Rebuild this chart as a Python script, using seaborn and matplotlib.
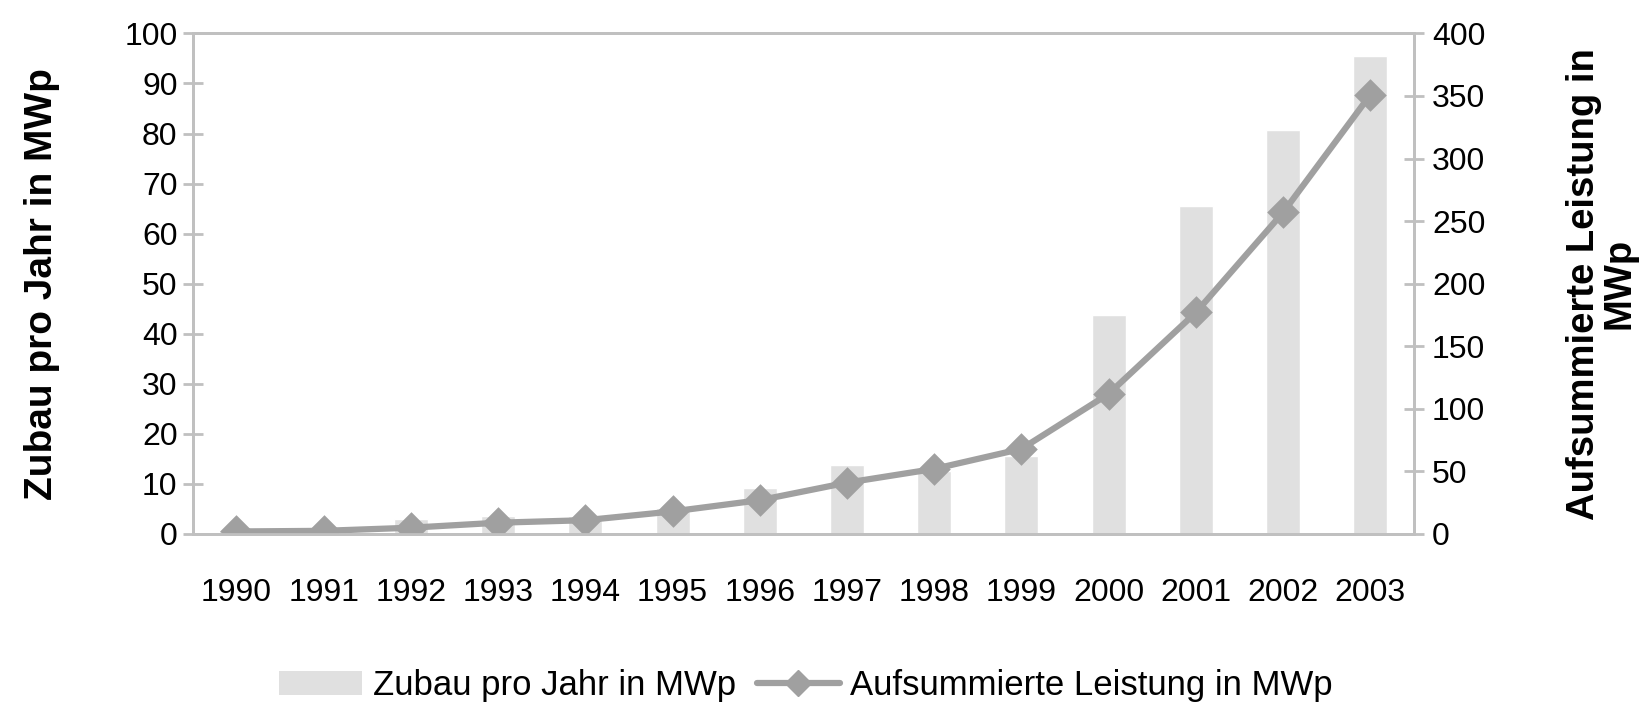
import seaborn as sns
import matplotlib.pyplot as plt
from matplotlib.lines import Line2D
from matplotlib.patches import Patch
import numpy as np

sns.set_theme(style="white")
plt.rcParams['font.family'] = ['Liberation Sans', 'DejaVu Sans']
plt.rcParams['text.color'] = 'black'

# data
years = ['1990', '1991', '1992', '1993', '1994', '1995', '1996',
         '1997', '1998', '1999', '2000', '2001', '2002', '2003']
zubau = [0.7, 0.5, 3.0, 3.5, 3.5, 5.2, 9.1, 13.7, 12.5, 15.5, 43.8, 65.5, 80.8, 95.5]
summe = [2, 2.5, 5, 9, 11, 18, 27, 41, 52, 68, 112, 177, 257, 351]

bar_col = '#e0e0e0'
line_col = '#a0a0a0'
axis_col = '#c0c0c0'
fs = 23

fig = plt.figure(figsize=(16.48, 7.05), dpi=100)
ax = fig.add_axes([0.117, 0.2426, 0.741, 0.710])

sns.barplot(x=years, y=zubau, color=bar_col, width=0.39, saturation=1, ax=ax)
ax2 = ax.twinx()
sns.pointplot(x=years, y=summe, color=line_col, markers='D', markersize=13,
              linewidth=4.5, ax=ax2)

ax.set_xlim(-0.5, 13.5)
ax.set_ylim(0, 100)
ax2.set_ylim(0, 400)
ax.set_yticks(np.arange(0, 101, 10))
ax2.set_yticks(np.arange(0, 401, 50))

for a in (ax, ax2):
    for s in a.spines.values():
        s.set_color(axis_col)
        s.set_linewidth(2)

ax.set_xticks(np.arange(-0.5, 14, 1), minor=True)
ax.tick_params(axis='x', which='major', length=0, pad=32, labelsize=fs, labelcolor='black')
ax.tick_params(axis='x', which='minor', length=14, width=2, direction='inout', color=axis_col)
ax.tick_params(axis='y', length=14, width=2, direction='inout', color=axis_col,
               labelsize=fs, pad=4, left=True, labelcolor='black')
ax2.tick_params(axis='y', length=14, width=2, direction='inout', color=axis_col,
                labelsize=fs, pad=6, right=True, labelcolor='black')
ax2.set_xlim(-0.5, 13.5)

ax.set_xlabel('')
ax.set_ylabel('Zubau pro Jahr in MWp', fontsize=28, fontweight='bold',
              color='black', labelpad=46)
ax2.set_ylabel('Aufsummierte Leistung in\nMWp', fontsize=27.5, fontweight='bold',
               color='black', labelpad=58, rotation=90, linespacing=1.0)
ax.grid(False)
ax2.grid(False)

handles = [Patch(facecolor=bar_col, edgecolor='none'),
           Line2D([0], [0], color=line_col, lw=4.5, marker='D', markersize=13)]
fig.legend(handles, ['Zubau pro Jahr in MWp', 'Aufsummierte Leistung in MWp'],
           loc='center', bbox_to_anchor=(0.489, 0.027), ncol=2, frameon=False,
           fontsize=25, handlelength=2.4, columnspacing=0.6, handletextpad=0.3)

fig.savefig('out.png', dpi=100)
